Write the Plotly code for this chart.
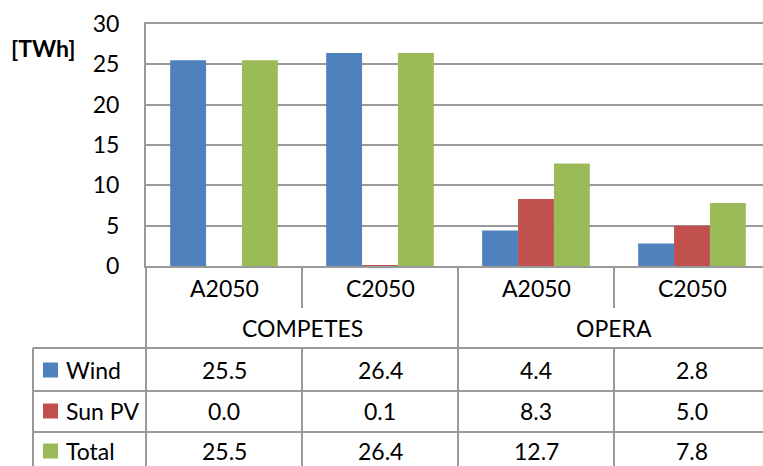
import plotly.graph_objects as go

# Scenario categories (model / scenario) and generation values in TWh
scenarios = ["A2050", "C2050", "A2050", "C2050"]
models = ["COMPETES", "OPERA"]
model_spans = [(0, 1), (2, 3)]

wind = [25.5, 26.4, 4.4, 2.8]
sun_pv = [0.0, 0.1, 8.3, 5.0]
total = [25.5, 26.4, 12.7, 7.8]

series_names = ["Wind", "Sun PV", "Total"]
series_values = [wind, sun_pv, total]
series_colors = ["#4F81BD", "#C0504D", "#9BBB59"]

y_ticks = [0, 5, 10, 15, 20, 25, 30]

W, H = 763, 466
M_L, M_T, M_B, M_R = 146, 24, 200, 0
PLOT_W = W - M_L - M_R
PLOT_H = H - M_T - M_B
FONT = "Lato"
FS = 23
GRID = "#999999"


def px_x(px):
    """Horizontal pixel -> paper coordinate."""
    return (px - M_L) / PLOT_W


def px_y(py):
    """Vertical pixel -> paper coordinate."""
    return (H - M_B - py) / PLOT_H


xpos = list(range(len(scenarios)))

fig = go.Figure()
for name, vals, col in zip(series_names, series_values, series_colors):
    fig.add_trace(go.Bar(
        x=xpos, y=vals, name=name,
        marker=dict(color=col, line=dict(width=0)),
        hoverinfo="skip",
    ))

shapes = []
annotations = []
line = dict(color=GRID, width=2)

# Row boundaries of the data table below the axis
row_tops = [348, 391, 432]
row_bottom = 474
tick_row_bottom = 308

# Table horizontal rules
for py in row_tops + [row_bottom]:
    shapes.append(dict(type="line", xref="paper", yref="paper",
                       x0=px_x(33), x1=1.02, y0=px_y(py), y1=px_y(py), line=line))
# Table outer left edge and plot left edge extended down
shapes.append(dict(type="line", xref="paper", yref="paper",
                   x0=px_x(33), x1=px_x(33), y0=px_y(row_tops[0]), y1=px_y(row_bottom), line=line))
shapes.append(dict(type="line", xref="paper", yref="paper",
                   x0=0, x1=0, y0=0, y1=px_y(row_bottom), line=line))

# Vertical dividers between categories
for i in range(1, len(scenarios)):
    xb = i - 0.5
    group_edge = any(i == s for s, _ in model_spans)
    if group_edge:
        shapes.append(dict(type="line", xref="x", yref="paper",
                           x0=xb, x1=xb, y0=0, y1=px_y(row_bottom), line=line))
    else:
        shapes.append(dict(type="line", xref="x", yref="paper",
                           x0=xb, x1=xb, y0=0, y1=px_y(tick_row_bottom), line=line))
        shapes.append(dict(type="line", xref="x", yref="paper",
                           x0=xb, x1=xb, y0=px_y(row_tops[0]), y1=px_y(row_bottom), line=line))

txt = dict(family=FONT, size=FS, color="#000000")

# Scenario labels
for i, s in enumerate(scenarios):
    annotations.append(dict(x=i, y=px_y(288), xref="x", yref="paper", text=s,
                            showarrow=False, font=txt, xanchor="center", yanchor="middle"))
# Model group labels
for m, (a, b) in zip(models, model_spans):
    annotations.append(dict(x=(a + b) / 2, y=px_y(328), xref="x", yref="paper", text=m,
                            showarrow=False, font=txt, xanchor="center", yanchor="middle"))

# Data table rows: legend key, series name and values
row_centers = [370, 411, 451]
for name, vals, col, yc in zip(series_names, series_values, series_colors, row_centers):
    shapes.append(dict(type="rect", xref="paper", yref="paper",
                       x0=px_x(43), x1=px_x(58), y0=px_y(yc - 7.5), y1=px_y(yc + 7.5),
                       fillcolor=col, line=dict(width=0)))
    annotations.append(dict(x=px_x(64), y=px_y(yc), xref="paper", yref="paper", text=name,
                            showarrow=False, font=txt, xanchor="left", yanchor="middle"))
    for i, v in enumerate(vals):
        annotations.append(dict(x=i, y=px_y(yc), xref="x", yref="paper", text=f"{v:.1f}",
                                showarrow=False, font=txt, xanchor="center", yanchor="middle"))

# Unit label
annotations.append(dict(x=px_x(9), y=px_y(48), xref="paper", yref="paper", text="<b>[TWh]</b>",
                        showarrow=False, font=dict(family=FONT, size=23, color="#000000"),
                        xanchor="left", yanchor="middle"))

cat_w = 156.0
fig.update_layout(
    width=W, height=H,
    margin=dict(l=M_L, r=M_R, t=M_T, b=M_B, pad=0),
    paper_bgcolor="white", plot_bgcolor="white",
    barmode="group", bargap=0.31, bargroupgap=0,
    showlegend=False,
    font=dict(family=FONT, size=FS, color="#000000"),
    xaxis=dict(range=[-0.5, -0.5 + PLOT_W / cat_w], showticklabels=False, ticks="",
               showgrid=False, zeroline=False, showline=True, mirror=True,
               linecolor=GRID, linewidth=2, fixedrange=True),
    yaxis=dict(range=[0, 30], tickvals=y_ticks, ticks="", showgrid=True,
               gridcolor=GRID, gridwidth=2, zeroline=False, showline=True,
               linecolor=GRID, linewidth=2, ticklabelstandoff=20,
               tickfont=dict(family=FONT, size=FS, color="#000000"), fixedrange=True),
    shapes=shapes, annotations=annotations,
)

fig.write_html("out.html")
